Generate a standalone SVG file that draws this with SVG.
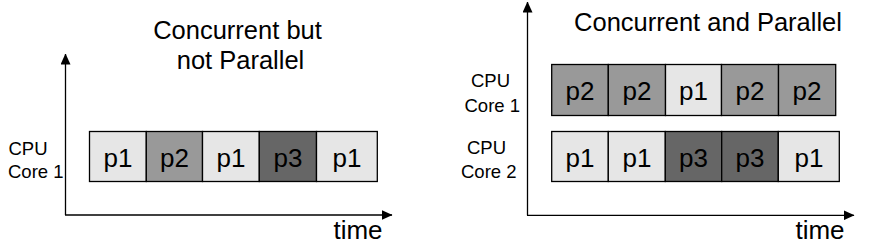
<svg xmlns="http://www.w3.org/2000/svg" width="874" height="250" viewBox="0 0 874 250">
<style>
text{font-family:"Liberation Sans",Arial,sans-serif;fill:#000}
.t{font-size:25.5px;text-anchor:middle}
.l{font-size:18.5px}
.c{font-size:26px;text-anchor:middle}
.cell rect{stroke:#000;stroke-width:1.3}
.a{fill:#e6e6e6}.b{fill:#999999}.d{fill:#666666}
.ax{stroke:#000;stroke-width:1.3;fill:none}
</style>
<defs>
<marker id="arr" viewBox="0 0 11 10" refX="10.5" refY="5" markerWidth="11" markerHeight="10" markerUnits="userSpaceOnUse" orient="auto">
<path d="M0,0 L11,5 L0,10 Z" fill="#000"/>
</marker>
</defs>
<g id="connectors">
<path class="ax" d="M65.5,215 L65.5,54" marker-end="url(#arr)"/>
<path class="ax" d="M65,215 L392,215" marker-end="url(#arr)"/>
<path class="ax" d="M527.5,215.3 L527.5,2" marker-end="url(#arr)"/>
<path class="ax" d="M527,215.3 L854,215.3" marker-end="url(#arr)"/>
</g>
<g id="titles">
<text class="t" x="237.5" y="38.5">Concurrent but</text>
<text class="t" x="240.5" y="69">not Parallel</text>
<text class="t" x="708" y="30.7">Concurrent and Parallel</text>
<text class="c" x="358" y="239">time</text>
<text class="c" x="820" y="239">time</text>
</g>
<g id="labels">
<text class="l" x="8.5" y="155">CPU</text>
<text class="l" x="8" y="177.7">Core 1</text>
<text class="l" x="471" y="87.3">CPU</text>
<text class="l" x="464.5" y="111.7">Core 1</text>
<text class="l" x="467" y="154">CPU</text>
<text class="l" x="461" y="177.7">Core 2</text>
</g>
<g id="left-row" class="cell">
<g id="l1"><rect class="a" x="89.5" y="131.5" width="56.8" height="50"/><text class="c" x="118" y="166.7">p1</text></g>
<g id="l2"><rect class="b" x="146.3" y="131.5" width="56.2" height="50"/><text class="c" x="174.4" y="166.7">p2</text></g>
<g id="l3"><rect class="a" x="202.5" y="131.5" width="56.8" height="50"/><text class="c" x="231" y="166.7">p1</text></g>
<g id="l4"><rect class="d" x="259.3" y="131.5" width="57.2" height="50"/><text class="c" x="288" y="166.7">p3</text></g>
<g id="l5"><rect class="a" x="316.5" y="131.5" width="60.8" height="50"/><text class="c" x="347" y="166.7">p1</text></g>
</g>
<g id="right-row1" class="cell">
<g id="r1a"><rect class="b" x="551.7" y="64.5" width="56.6" height="51"/><text class="c" x="580" y="100">p2</text></g>
<g id="r1b"><rect class="b" x="608.3" y="64.5" width="57.2" height="51"/><text class="c" x="637" y="100">p2</text></g>
<g id="r1c"><rect class="a" x="665.5" y="64.5" width="56" height="51"/><text class="c" x="693.5" y="100">p1</text></g>
<g id="r1d"><rect class="b" x="721.5" y="64.5" width="57" height="51"/><text class="c" x="750" y="100">p2</text></g>
<g id="r1e"><rect class="b" x="778.5" y="64.5" width="57.2" height="51"/><text class="c" x="807" y="100">p2</text></g>
</g>
<g id="right-row2" class="cell">
<g id="r2a"><rect class="a" x="551.7" y="131.5" width="56.6" height="50"/><text class="c" x="580" y="166.5">p1</text></g>
<g id="r2b"><rect class="a" x="608.3" y="131.5" width="57" height="50"/><text class="c" x="637" y="166.5">p1</text></g>
<g id="r2c"><rect class="d" x="665.3" y="131.5" width="56.4" height="50"/><text class="c" x="693.5" y="166.5">p3</text></g>
<g id="r2d"><rect class="d" x="721.7" y="131.5" width="56.6" height="50"/><text class="c" x="750" y="166.5">p3</text></g>
<g id="r2e"><rect class="a" x="778.3" y="131.5" width="61" height="50"/><text class="c" x="809" y="166.5">p1</text></g>
</g>
</svg>
